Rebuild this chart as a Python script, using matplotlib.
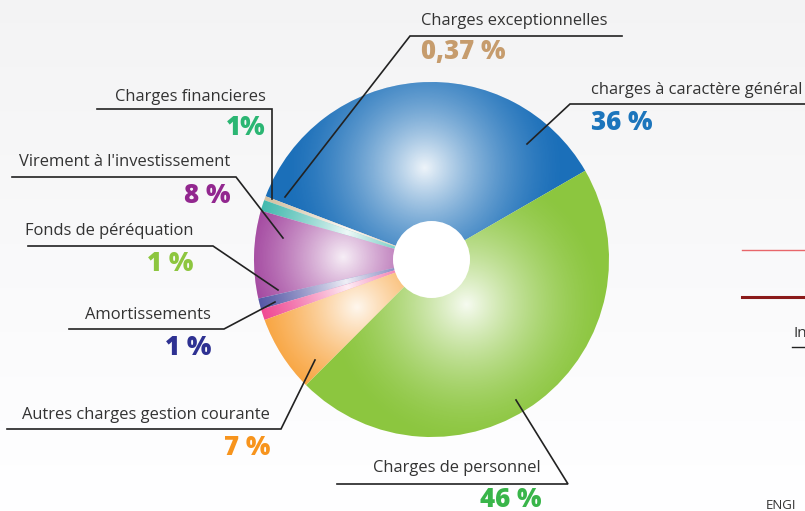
import numpy as np
import matplotlib.pyplot as plt
from matplotlib.patches import Circle

# slices, counter-clockwise from the blue/green boundary
labels = ['charges à caractère général', 'Charges exceptionnelles', 'Charges financieres',
          "Virement à l'investissement", 'Fonds de péréquation', 'Amortissements',
          'Autres charges gestion courante', 'Charges de personnel']
values = [36, 0.37, 1, 8, 1, 1, 7, 46]
pct_labels = ['36 %', '0,37 %', '1%', '8 %', '1 %', '1 %', '7 %', '46 %']
slice_colors = ['#1b6fb9', '#c9b28c', '#16a99b', '#93278f', '#2e3192', '#ec1f7a', '#f7941d', '#8cc63f']
pct_colors = ['#1c75bc', '#c69c6d', '#2bb673', '#92278f', '#8dc63f', '#2e3192', '#f7941d', '#39b54a']

W, H = 805, 511
def Y(y):
    return H - y

fig = plt.figure(figsize=(8.05, 5.11), dpi=100)
ax = fig.add_axes([0, 0, 1, 1])
ax.axis('off')

# light background, whiter at top
bg = np.linspace(1.0, 0.955, 200)[:, None] * np.ones((200, 2))
ax.imshow(np.dstack([bg, bg, bg * 1.004]).clip(0, 1), extent=[0, W, H, 0],
          aspect='auto', zorder=0, origin='upper')

cx, cy, R = 431.5, Y(259.5), 177.5
wedges, _ = ax.pie(values, colors=slice_colors, startangle=30, center=(cx, cy),
                   radius=R, wedgeprops=dict(linewidth=0))

# white radial highlight in each slice (big green slice has it closer to the hole)
hl_pos = [0.52, 0.5, 0.5, 0.5, 0.5, 0.5, 0.5, 0.32]
n = 400
gx, gy = np.meshgrid(np.linspace(cx - R, cx + R, n), np.linspace(cy - R, cy + R, n))
for w, hp in zip(wedges, hl_pos):
    w.set_zorder(1)
    mid = np.deg2rad((w.theta1 + w.theta2) / 2)
    hx, hy = cx + hp * R * np.cos(mid), cy + hp * R * np.sin(mid)
    d = np.hypot(gx - hx, gy - hy)
    a = 0.93 * np.clip(1 - d / (0.8 * R), 0, 1) ** 1.6
    rgba = np.ones((n, n, 4))
    rgba[..., 3] = a
    im = ax.imshow(rgba, extent=[cx - R, cx + R, cy - R, cy + R], origin='lower',
                   zorder=2, interpolation='bilinear')
    im.set_clip_path(w)

ax.add_patch(Circle((cx, cy), 38.5, color='white', zorder=3, lw=0))

# label layout: text x, text y, ha, pct y, leader line points
layout = [
    (591, 90, 'left', 123, [(805, 104), (570, 104), (527, 144)]),
    (421, 21, 'left', 52, [(622, 36), (410, 36), (285, 197)]),
    (266, 97, 'right', 128, [(97, 109), (272, 109), (272, 199)]),
    (230, 162, 'right', 196, [(12, 177), (236, 177), (283, 238)]),
    (193, 231, 'right', 264, [(28, 246), (213, 246), (278, 290)]),
    (211, 315, 'right', 348, [(69, 329), (224, 329), (275, 302)]),
    (270, 415, 'right', 448, [(7, 429), (281, 429), (315, 360)]),
    (541, 468, 'right', 500, [(337, 484), (568, 484), (516, 400)]),
]
font = 'Open Sans'
for lab, pct, pc, (tx, ty, ha, py, pts) in zip(labels, pct_labels, pct_colors, layout):
    ax.text(tx, Y(ty), lab, ha=ha, va='center', fontsize=11.9, color='#333333',
            family=font, zorder=5)
    ax.text(tx, Y(py), pct, ha=ha, va='center', fontsize=18.5, color=pc,
            family=font, fontweight='heavy', zorder=5)
    xs, ys = zip(*pts)
    ax.plot(xs, [Y(v) for v in ys], color='#222222', lw=1.2, zorder=4,
            solid_joinstyle='miter')

# cut-off elements at right edge
ax.plot([742, 805], [Y(250), Y(250)], color='#e8666a', lw=1.0)
ax.plot([742, 805], [Y(297), Y(297)], color='#8b1a1a', lw=2.2)
ax.text(793, Y(333), 'In', fontsize=11, color='#333333', family=font, va='center')
ax.plot([792, 805], [Y(347), Y(347)], color='#222222', lw=1.0)
ax.text(766, Y(505), 'ENGI', fontsize=9.5, color='#333333', family=font, va='center')

ax.set_xlim(0, W)
ax.set_ylim(0, H)
ax.set_aspect('equal')
fig.savefig('out.png', dpi=100)
